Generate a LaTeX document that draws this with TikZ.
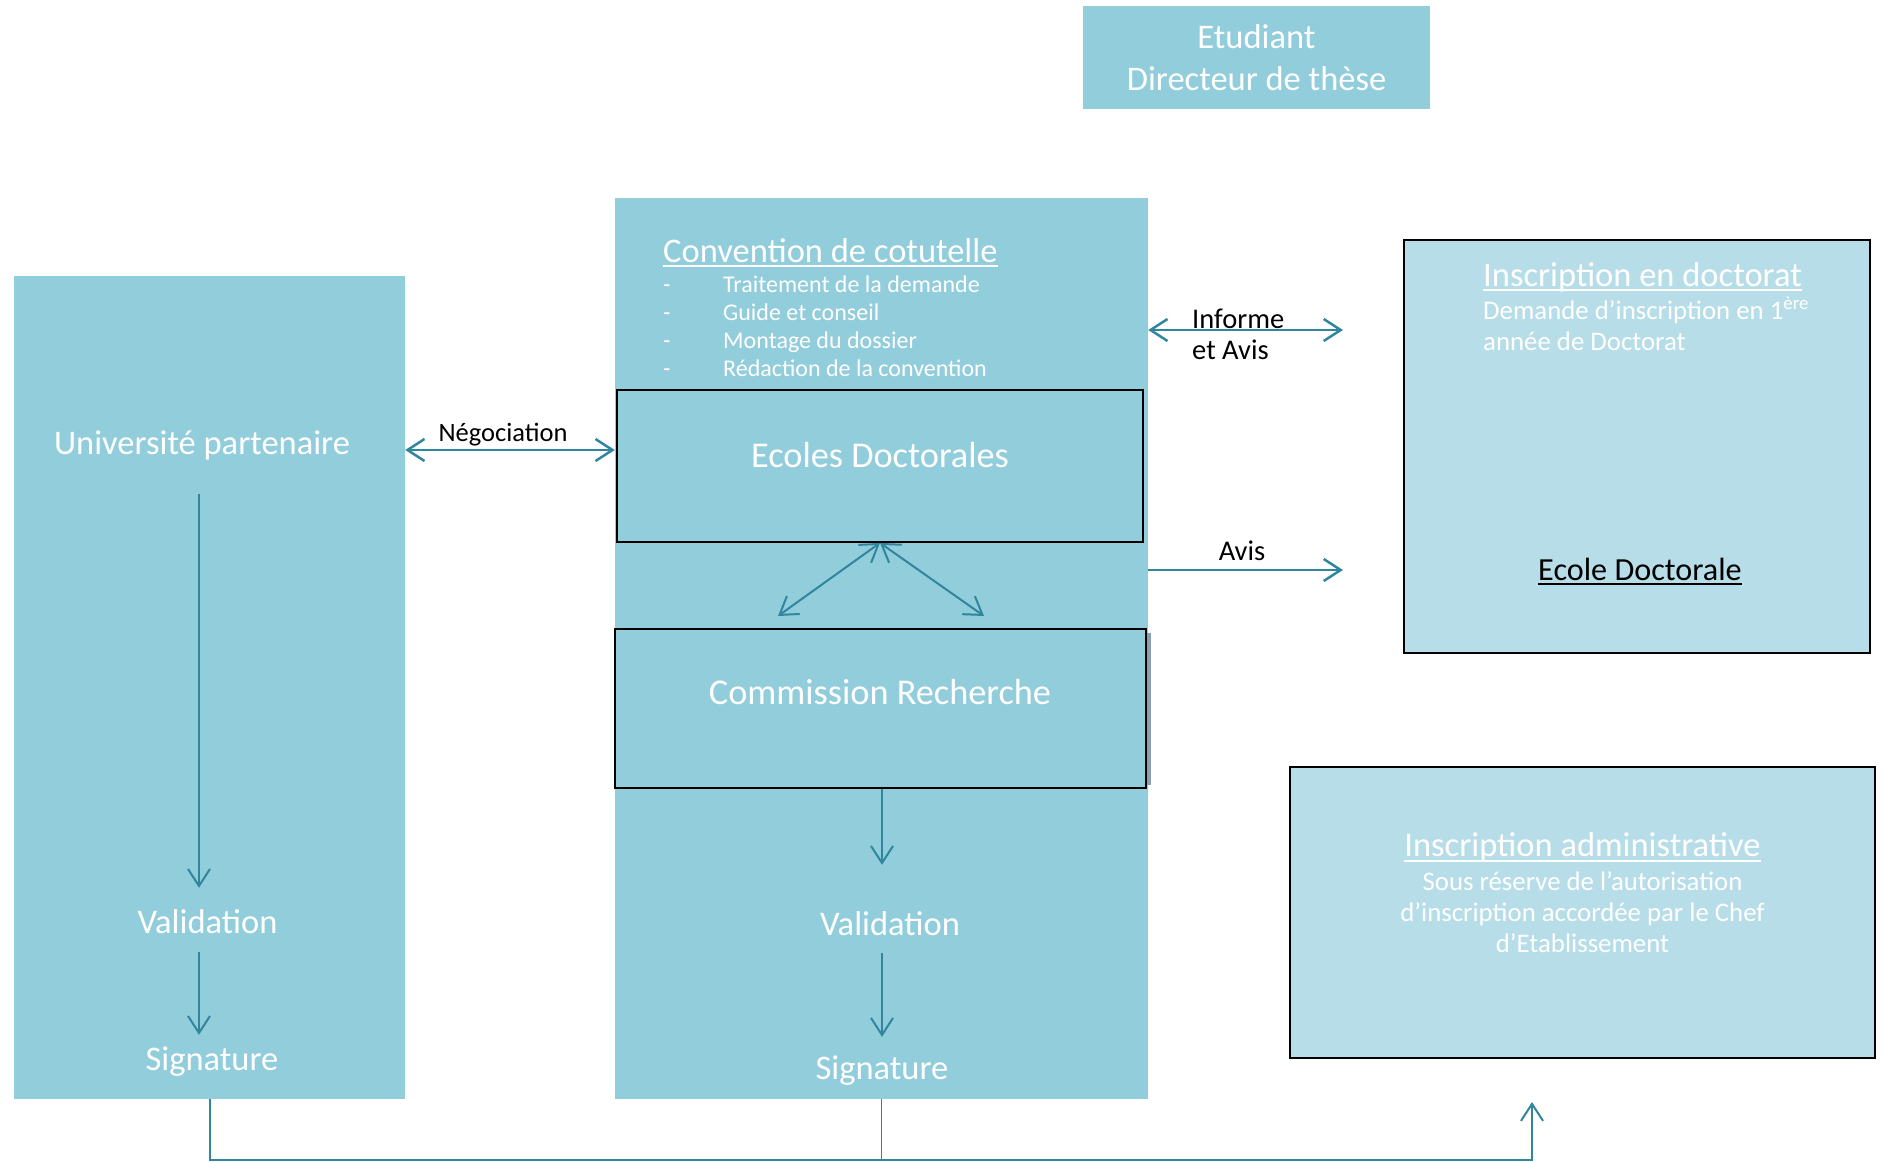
\documentclass[tikz,border=0pt]{standalone}
\usepackage{fontspec}
\setmainfont{Carlito}
\usepackage{tikz}
\usetikzlibrary{arrows.meta}
\definecolor{panelblue}{RGB}{146,205,220}
\definecolor{paleblue}{RGB}{183,222,232}
\definecolor{linkblue}{RGB}{49,133,156}
\definecolor{shadowgrey}{RGB}{140,158,176}
\newsavebox\ulbox
\newcommand{\undertxt}[1]{\sbox\ulbox{#1}\rlap{\rule[-0.15em]{\wd\ulbox}{0.06em}}\usebox\ulbox}

\begin{document}
\begin{tikzpicture}[x=1pt,y=-1pt,
  >={Straight Barb[length=17pt,width=22pt]},
  panel/.style={fill=panelblue,inner sep=0},
  framebox/.style={draw=black,line width=1.8pt,inner sep=0},
  big/.style={text=white,inner sep=0,font=\fontsize{34.5}{42}\selectfont},
  wide/.style={text=white,inner sep=0,font=\fontsize{36.3}{44}\selectfont},
  oneline/.style={text height=24pt,text depth=7pt},
  small/.style={text=white,inner sep=0,font=\fontsize{24}{28.3}\selectfont},
  body/.style={text=white,inner sep=0,font=\fontsize{26.8}{31}\selectfont},
  note/.style={text=black,inner sep=0,font=\fontsize{28.5}{31}\selectfont},
  link/.style={draw=linkblue,line width=2.5pt},
  flow/.style={draw=linkblue,line width=2pt,->}]
  \useasboundingbox (0,0) rectangle (1883,1162);

  \node[panel,minimum width=391pt,minimum height=823pt] (univ) at (209.5,687.5) {};
  \node[panel,minimum width=533pt,minimum height=901pt] (mid) at (881.5,648.5) {};
  \node[panel,big,align=center,minimum width=347pt,minimum height=103pt] (etud) at (1256.5,57.5) {Etudiant\\Directeur de thèse};
  \node[framebox,fill=panelblue,minimum width=526pt,minimum height=152pt] (ecoles) at (880,466) {};
  \node[framebox,fill=panelblue,minimum width=531pt,minimum height=159pt] (comm) at (880.5,708.5) {};
  \fill[shadowgrey] ([yshift=-5pt]comm.north east) rectangle ([xshift=4pt,yshift=4pt]comm.south east);
  \node[framebox,fill=paleblue,minimum width=466pt,minimum height=413pt] (doct) at (1637,446.5) {};
  \node[framebox,fill=paleblue,minimum width=585pt,minimum height=291pt] (admin) at (1582.5,912.5) {};

  \node[big,oneline,anchor=base] (univtxt) at (202,454) {Université partenaire};
  \node[big,oneline,anchor=base] (valL) at (207.5,933) {Validation};
  \node[big,oneline,anchor=base] (sigL) at (212,1070) {Signature};
  \node[big,oneline,anchor=base] (valM) at (890,935) {Validation};
  \node[big,oneline,anchor=base] (sigM) at (882,1079) {Signature};
  \node[wide,anchor=base] (ecolestxt) at (880,467) {Ecoles Doctorales};
  \node[wide,anchor=base] (commtxt) at (880,704) {Commission Recherche};

  \node[big,anchor=base west] (convtitle) at (663,262) {\undertxt{Convention de cotutelle}};
  \foreach \entry [count=\i from 0] in {Traitement de la demande,Guide et conseil,Montage du dossier,Rédaction de la convention} {
    \node[small,anchor=base west] (dash\i) at (663,292+28.3*\i) {-};
    \node[small,anchor=base west] (entry\i) at (723,292+28.3*\i) {\entry};
  }

  \node[big,anchor=base west] (doctitle) at (1483,286) {\undertxt{Inscription en doctorat}};
  \node[body,anchor=base west,align=left] (docbody) at (1483,350) {Demande d’inscription en 1\textsuperscript{ère}\\année de Doctorat};
  \node[text=black,inner sep=0,font=\fontsize{32.2}{38}\selectfont,anchor=base] (edtxt) at (1640,580) {\undertxt{Ecole Doctorale}};

  \node[big,anchor=base] (admtitle) at (1582.5,856.5) {\undertxt{Inscription administrative}};
  \node[body,anchor=base,align=center] (admbody) at (1582.5,952.5) {Sous réserve de l’autorisation\\d’inscription accordée par le Chef\\d’Etablissement};

  \node[note,font=\fontsize{26.5}{31}\selectfont,anchor=base] (negotxt) at (503,441) {Négociation};
  \node[note,anchor=base west,align=left] (infotxt) at (1192,359) {Informe\\et Avis};
  \node[note,anchor=base] (avistxt) at (1242,560) {Avis};

  \coordinate (infoend) at (1343,330);
  \coordinate (avisend) at (1343,570);
  \coordinate (dl) at (778,616);
  \coordinate (dr) at (984,616);
  \coordinate (botR) at (1532,1160);
  \coordinate (tipB) at (1532,1102);

  \draw[link,<->] (univ.east |- 0,450) -- (mid.west |- 0,450);
  \draw[link,<->] (mid.east |- infoend) -- (infoend);
  \draw[link,->] (mid.east |- avisend) -- (avisend);
  \draw[link,line width=2pt,<->] (ecoles.south) -- (dl);
  \draw[link,line width=2pt,<->] (ecoles.south) -- (dr);

  \draw[flow,shorten <=33pt,shorten >=21pt] (univtxt.south -| 199,0) -- (valL.north -| 199,0);
  \draw[flow,shorten <=12pt,shorten >=11pt] (valL.south -| 199,0) -- (sigL.north -| 199,0);
  \draw[flow,shorten >=46pt] (comm.south -| sigM) -- (valM.north -| sigM);
  \draw[flow,shorten <=11pt,shorten >=18pt] (valM.south -| sigM) -- (sigM.north);

  \draw[link,line width=2pt,->] (univ.south) |- (botR) -- (tipB);
  \draw[link,line width=1.5pt] (mid.south) -- (mid.south |- botR);
\end{tikzpicture}
\end{document}
